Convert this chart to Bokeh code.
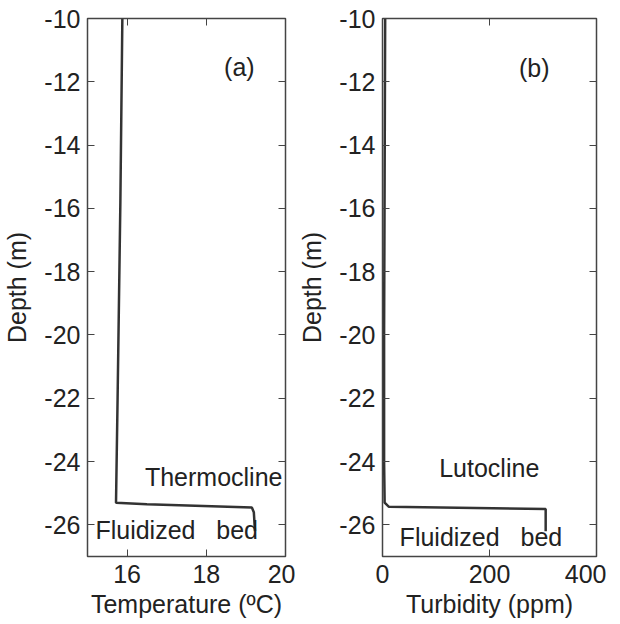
from bokeh.plotting import figure
from bokeh.models import LinearAxis, FixedTicker, Label, Range1d
from bokeh.layouts import row
from bokeh.embed import file_html
from bokeh.resources import INLINE

# Data
temp_depth = [-10.0, -15.8, -22.0, -25.3, -25.35, -25.45, -25.6, -26.2]
temp_val = [15.88, 15.83, 15.76, 15.72, 16.5, 19.15, 19.2, 19.23]
turb_depth = [-10.0, -15.0, -20.0, -24.0, -25.3, -25.43, -25.5, -26.2]
turb_val = [5, 4, 3, 3, 4, 12, 305, 305]
depth_ticks = [-26, -24, -22, -20, -18, -16, -14, -12, -10]
temp_ticks = [16, 18, 20]
turb_ticks = [0, 200, 400]

FONT = "Liberation Sans"
TXT = "#222222"
LINE = "#333333"
FS = "25px"


def style_axis(ax, ticks, show_labels=True):
    ax.ticker = FixedTicker(ticks=ticks)
    ax.major_tick_in = 7
    ax.major_tick_out = 0
    ax.minor_tick_line_color = None
    ax.axis_line_color = None
    ax.major_tick_line_color = "#444444"
    ax.major_tick_line_width = 1
    ax.major_label_text_font = FONT
    ax.major_label_text_color = TXT
    ax.major_label_text_font_size = FS
    ax.axis_label_text_font = FONT
    ax.axis_label_text_font_style = "normal"
    ax.axis_label_text_color = TXT
    ax.axis_label_text_font_size = FS
    if show_labels:
        ax.major_label_overrides = {t: str(t) for t in ticks}
    else:
        ax.major_label_overrides = {t: "" for t in ticks}


def make_fig(xr, xticks, xlabel, min_left, min_right, fw):
    p = figure(frame_width=fw, frame_height=538, output_backend="svg",
               toolbar_location=None, x_range=Range1d(*xr),
               y_range=Range1d(-27, -10),
               min_border_left=min_left, min_border_right=min_right,
               min_border_top=18, min_border_bottom=61)
    p.grid.grid_line_color = None
    p.outline_line_color = "#444444"
    p.outline_line_width = 1.5
    p.background_fill_color = "white"
    p.border_fill_color = "white"
    style_axis(p.xaxis[0], xticks)
    style_axis(p.yaxis[0], depth_ticks)
    p.xaxis[0].axis_label = xlabel
    p.yaxis[0].axis_label = "Depth (m)"
    p.xaxis[0].major_label_standoff = 8
    p.yaxis[0].major_label_standoff = 7
    p.xaxis[0].axis_label_standoff = 4
    p.yaxis[0].axis_label_standoff = 10
    top = LinearAxis()
    style_axis(top, xticks, show_labels=False)
    top.major_label_standoff = 0
    p.add_layout(top, "above")
    right = LinearAxis()
    style_axis(right, depth_ticks, show_labels=False)
    right.major_label_standoff = 0
    p.add_layout(right, "right")
    return p


p1 = make_fig((15, 20), temp_ticks, "Temperature (ºC)", 85, 10, 198)
p1.line(temp_val, temp_depth, line_color=LINE, line_width=2.5)

p2 = make_fig((0, 400), turb_ticks, "Turbidity (ppm)", 73, 10, 214)
p2.line(turb_val, turb_depth, line_color=LINE, line_width=2.5)


def lab(p, x, y, t):
    p.add_layout(Label(x=x, y=y, text=t, text_font=FONT, text_font_size=FS,
                       text_color=TXT, text_baseline="middle",
                       text_align="left", level="overlay"))


NB = "\u00a0"
lab(p1, 18.45, -11.52, "(a)")
lab(p1, 16.45, -24.49, "Thermocline")
lab(p1, 15.2, -26.17, "Fluidized" + NB * 3 + "bed")
lab(p2, 255, -11.55, "(b)")
lab(p2, 106, -24.2, "Lutocline")
lab(p2, 32, -26.38, "Fluidized" + NB * 3 + "bed")

layout = row(p1, p2, spacing=0)
open("out.html", "w").write(file_html(layout, INLINE))
